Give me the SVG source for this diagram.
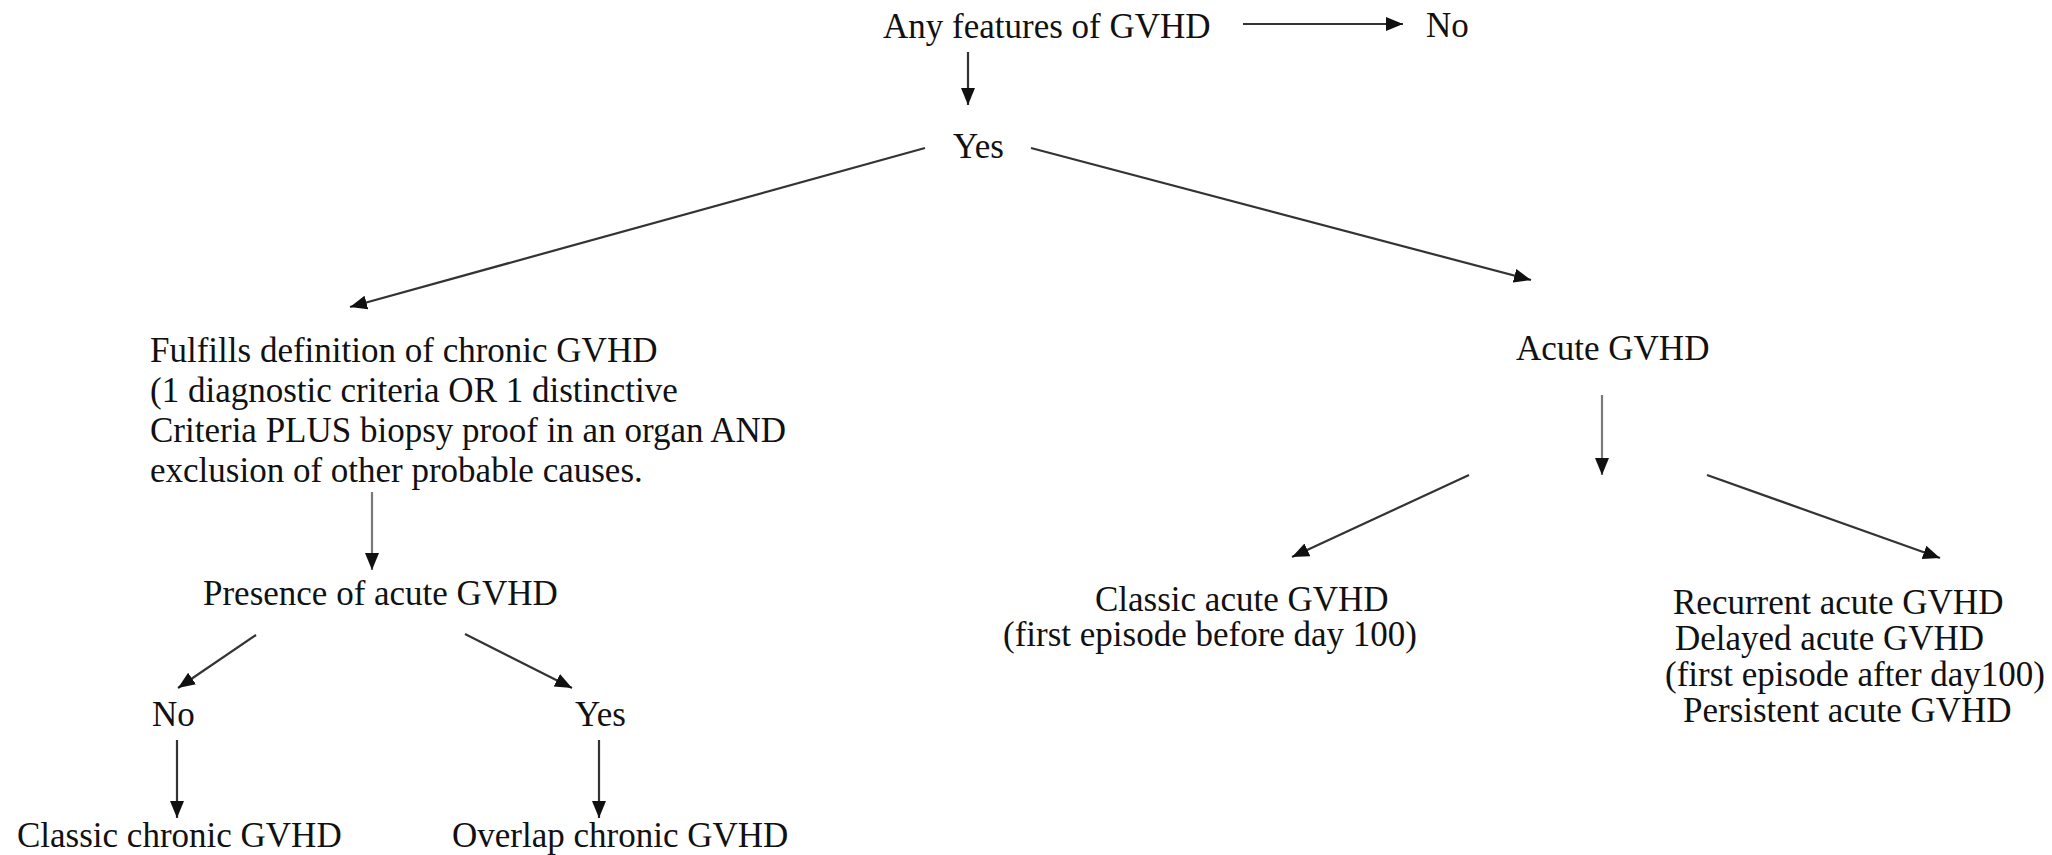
<svg xmlns="http://www.w3.org/2000/svg" width="2052" height="855" viewBox="0 0 2052 855">
<style>
text{font-family:"Liberation Serif","Times New Roman",serif;font-size:35px;fill:#111}
.c line{stroke:#333;stroke-width:2.2;fill:none;marker-end:url(#ah)}
.c line.g{stroke:#7a7a7a}
</style>
<defs>
<marker id="ah" markerUnits="userSpaceOnUse" markerWidth="18" markerHeight="16" refX="17" refY="7" orient="auto" viewBox="0 0 18 14">
<path d="M0,0 L17,7 L0,14 Z" fill="#111"/>
</marker>
</defs>
<rect width="2052" height="855" fill="#fff"/>
<g id="connectors" class="c">
<line x1="1243" y1="24" x2="1403" y2="24"/>
<line x1="968" y1="52" x2="968" y2="105"/>
<line x1="925" y1="148" x2="350" y2="307"/>
<line x1="1031" y1="148" x2="1531" y2="280"/>
<line class="g" x1="372" y1="492" x2="372" y2="570"/>
<line x1="256" y1="635" x2="178" y2="688"/>
<line x1="465" y1="634" x2="572" y2="688"/>
<line x1="177" y1="740" x2="177" y2="818"/>
<line x1="599" y1="740" x2="599" y2="818"/>
<line class="g" x1="1602" y1="395" x2="1602" y2="475"/>
<line x1="1469" y1="475" x2="1292" y2="557"/>
<line x1="1707" y1="475" x2="1940" y2="558"/>
</g>
<g id="n-any"><text x="883" y="38">Any features of GVHD</text></g>
<g id="n-no-top"><text x="1426" y="37">No</text></g>
<g id="n-yes-top"><text x="953" y="158">Yes</text></g>
<g id="n-chronic-def">
<text x="150" y="362">Fulfills definition of chronic GVHD</text>
<text x="150" y="402">(1 diagnostic criteria OR 1 distinctive</text>
<text x="150" y="442">Criteria PLUS biopsy proof in an organ AND</text>
<text x="150" y="482">exclusion of other probable causes.</text>
</g>
<g id="n-acute"><text x="1516" y="360">Acute GVHD</text></g>
<g id="n-presence"><text x="203" y="605">Presence of acute GVHD</text></g>
<g id="n-no-low"><text x="152" y="726">No</text></g>
<g id="n-yes-low"><text x="575" y="726">Yes</text></g>
<g id="n-classic-chronic"><text x="17" y="847">Classic chronic GVHD</text></g>
<g id="n-overlap"><text x="452" y="847">Overlap chronic GVHD</text></g>
<g id="n-classic-acute">
<text x="1095" y="611">Classic acute GVHD</text>
<text x="1003" y="646">(first episode before day 100)</text>
</g>
<g id="n-other-acute">
<text x="1673" y="614">Recurrent acute GVHD</text>
<text x="1675" y="650">Delayed acute GVHD</text>
<text x="1665" y="686">(first episode after day100)</text>
<text x="1683" y="722">Persistent acute GVHD</text>
</g>
</svg>
